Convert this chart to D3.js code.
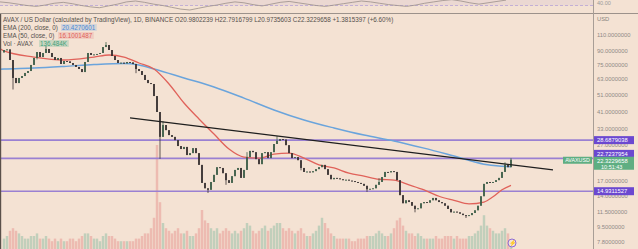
<!DOCTYPE html>
<html><head><meta charset="utf-8">
<script src="https://cdn.jsdelivr.net/npm/d3@7"></script>
<style>
html,body{margin:0;padding:0;background:#f4e2d3;}
svg{display:block;font-family:"Liberation Sans",Arial,sans-serif;}
</style></head><body>
<svg id="c" width="638" height="249"></svg>
<script>
// ---- data ----
const closes = [
 90.8,91.5,79.9,63.5,59.5,63.5,65.1,67.7,69.4,75.0,
 82.0,88.5,83.0,87.4,92.0,87.4,83.0,79.9,82.0,75.9,
 78.9,78.5,76.9,75.0,73.1,71.2,68.5,77.9,87.4,85.2,
 85.8,86.3,87.4,94.3,96.8,90.8,84.1,79.9,76.9,77.2,
 76.5,77.9,77.5,75.9,71.2,69.4,66.0,61.9,59.5,58.8,
 50.4,41.1,29.9,34.8,32.6,30.6,29.9,28.7,26.6,25.6,
 26.3,23.7,24.3,25.9,24.3,20.9,16.6,15.5,15.2,16.8,
 18.4,20.3,20.1,18.8,17.2,16.6,18.1,19.6,20.1,17.7,
 19.6,23.1,25.0,24.6,22.5,21.1,24.3,24.6,22.8,24.6,
 27.3,28.4,29.1,28.9,26.9,24.3,22.8,23.1,22.2,20.1,
 19.1,19.2,19.0,19.3,19.8,20.3,20.9,19.8,18.4,17.4,
 17.7,17.6,17.4,17.2,17.3,17.1,17.0,16.8,16.6,16.4,
 16.0,15.3,15.4,15.5,16.2,16.8,17.9,19.1,19.0,19.3,
 19.1,17.2,14.2,12.8,13.3,13.0,12.4,11.9,12.0,12.8,
 13.0,12.9,13.3,13.7,13.3,13.0,12.8,12.4,11.9,11.4,
 11.5,11.4,11.2,11.0,10.9,11.0,11.3,11.7,12.4,14.0,
 16.4,16.8,16.6,16.8,17.2,17.7,19.1,20.9,20.3,22.32
];
const firstOpen = 88.0;
const wickLows = [[3,54.8],[52,22.6],[68,14.6],[137,11.4],[154,10.6],[11,80.5],[28,80.0],[44,67.5],[74,16.2],[99,19.5],[121,14.8]];
const wickHighs = [[34,100.5],[169,22.79],[91,30.2],[14,95.5],[53,36.5],[81,24.6],[125,17.6],[167,21.6]];
const volumes = [
 4,5,7,8,7,6,5,4,4,5, 5,6,4,4,5,4,3,4,3,4, 3,3,4,4,3,4,5,6,6,5,
 4,4,3,5,6,5,5,4,3,3, 3,3,3,3,4,4,5,6,6,8, 12,40,18,10,8,7,6,7,8,6,
 6,7,5,5,6,8,15,11,10,8, 7,8,6,7,8,7,6,7,6,7, 8,10,9,7,6,7,8,9,7,8,
 9,10,10,8,7,8,7,6,7,8, 6,5,5,6,7,9,12,10,8,6, 5,4,4,4,4,4,3,3,4,4,
 4,5,5,5,6,7,6,5,5,6, 8,11,12,9,7,6,6,5,6,5, 4,4,4,4,5,4,4,5,5,5,
 4,5,4,4,4,5,5,6,7,9, 13,9,8,7,6,6,7,8,6,3
];
const ema200Idx = [-1.5,0,10,20,30,40,45,50,60,70,80,90,100,110,120,130,140,150,160,165,169];
const ema200    = [71.0,71.2,72.1,73.6,75.4,76.4,75.0,71.2,63.5,56.6,49.1,42.2,37.1,33.5,30.6,28.4,25.9,23.4,21.1,20.6,20.43];
const ema50Idx  = [-1.5,0,10,20,30,35,40,45,50,55,60,65,70,75,80,85,90,95,100,105,110,115,120,125,130,135,140,145,150,155,160,163,166,169];
const ema50     = [93.0,89.7,83.0,79.9,83.0,85.2,83.0,76.9,71.2,58.8,46.1,37.6,31.0,25.6,23.1,22.8,24.0,24.3,22.8,20.9,20.1,18.8,18.1,17.4,17.2,16.2,15.2,14.0,13.3,12.7,13.0,13.9,15.2,16.10];
const trendIdx  = [42,183];
const trendVals = [38.1,19.6];
const levels = [28.6879038, 22.7237954, 14.9311527];
const levelLabelShift = [0, -4.5, 0];
const priceTicks = [110,90,75,63,51,41,33,27,17,14,11.5,9.5,7.8];
const rsi = [38,36,33,30,28,31,35,37,34,30,27,25,29,33,38,40,37,33,30,26,22,20,24,28,31,35,38,36,32,29,33,37,39,36,33,30,28,31,34,37,40,38,35,32,30,28,31,35,38,41,43,40,36,33,36,39,42];
const lastPrice = 22.3229658;
const countdown = "10:51:43";

// ---- scales ----
const svg = d3.select("#c");
const W = 638, H = 249, plotR = 593;
const x = d3.scaleLinear().domain([0,169]).range([4,511]);
const y = d3.scaleLog().domain([7.8,110]).range([242,35]);
const yv = d3.scaleLinear().domain([0,40]).range([249,145]);
const xr = d3.scaleLinear().domain([0,rsi.length-1]).range([0,506]);
const yr = d3.scaleLinear().domain([30,40]).range([5.5,1]);

svg.append("rect").attr("width",W).attr("height",H).attr("fill","#f4e2d3");

// top pane (RSI remnants)
const topPane = svg.append("g");
topPane.append("rect").attr("x",0).attr("y",0).attr("width",plotR).attr("height",5.5).attr("fill","rgba(126,87,194,0.07)");
topPane.append("line").attr("x1",0).attr("x2",plotR).attr("y1",yr(30)).attr("y2",yr(30))
  .attr("stroke","#b7a3d6").attr("stroke-dasharray","3,2").attr("stroke-width",0.8);
topPane.append("path").datum(rsi).attr("fill","none").attr("stroke","#9a8f8a").attr("stroke-width",0.8)
  .attr("d",d3.line().x((d,i)=>xr(i)).y(d=>yr(d)));
svg.append("line").attr("x1",0).attr("x2",W).attr("y1",13.5).attr("y2",13.5).attr("stroke","#9c928b").attr("stroke-width",1.2);
svg.append("text").attr("x",597).attr("y",5).attr("font-size",5.5).attr("fill","#999").text("40.00");

const clip = svg.append("defs").append("clipPath").attr("id","pc");
clip.append("rect").attr("x",0).attr("y",14).attr("width",plotR).attr("height",H-14);
const g = svg.append("g").attr("clip-path","url(#pc)");

// volumes
const opens = closes.map((c,i)=> i===0 ? firstOpen : closes[i-1]);
g.append("g").selectAll("rect").data(volumes).join("rect")
  .attr("x",(d,i)=>x(i)-1.2).attr("width",2.4)
  .attr("y",d=>yv(d)).attr("height",d=>yv(0)-yv(d))
  .attr("fill",(d,i)=> closes[i]>=opens[i] ? "rgba(90,170,140,0.33)" : "rgba(225,110,110,0.33)");

// levels
g.append("g").selectAll("line").data(levels).join("line")
  .attr("x1",0).attr("x2",plotR).attr("y1",d=>y(d)).attr("y2",d=>y(d))
  .attr("stroke","#9a80d2").attr("stroke-width",1.6);

// EMAs
const line = d3.line().curve(d3.curveMonotoneX);
g.append("path").datum(ema200Idx.map((k,i)=>[x(k),y(ema200[i])])).attr("d",line)
  .attr("fill","none").attr("stroke","#6aa4dc").attr("stroke-width",1.5);
g.append("path").datum(ema50Idx.map((k,i)=>[x(k),y(ema50[i])])).attr("d",line)
  .attr("fill","none").attr("stroke","#e0625a").attr("stroke-width",1.3);

// candles
const cg = g.append("g");
const lowMap = new Map(wickLows), highMap = new Map(wickHighs);
closes.forEach((c,i)=>{
  const o = opens[i];
  const hi = highMap.has(i) ? highMap.get(i) : Math.max(o,c);
  const lo = lowMap.has(i) ? lowMap.get(i) : Math.min(o,c);
  const col = c>=o ? "#3f5f4a" : "#3a3434";
  cg.append("line").attr("x1",x(i)).attr("x2",x(i)).attr("y1",y(hi)).attr("y2",y(lo)).attr("stroke",col).attr("stroke-width",0.8);
  const yt = y(Math.max(o,c)), yb = y(Math.min(o,c));
  cg.append("rect").attr("x",x(i)-0.9).attr("width",1.8).attr("y",yt).attr("height",Math.max(1,yb-yt)).attr("fill",col);
});

// trendline
g.append("line").attr("x1",x(trendIdx[0])).attr("y1",y(trendVals[0]))
  .attr("x2",x(trendIdx[1])).attr("y2",y(trendVals[1])).attr("stroke","#1e1e1e").attr("stroke-width",1.2);

// event icon
const ev = svg.append("g").attr("transform",`translate(${x(169)+1},243)`);
ev.append("circle").attr("r",4).attr("fill","#f4e2d3").attr("stroke","#8c6bd6").attr("stroke-width",1);
ev.append("text").attr("text-anchor","middle").attr("y",2.2).attr("font-size",6).attr("fill","#8c6bd6").text("⚡");

// left border
svg.append("line").attr("x1",0.6).attr("x2",0.6).attr("y1",14).attr("y2",H).attr("stroke","#5a504a").attr("stroke-width",1.2);

// right axis
svg.append("line").attr("x1",plotR+0.5).attr("x2",plotR+0.5).attr("y1",0).attr("y2",H).attr("stroke","#a89e96").attr("stroke-width",1);
svg.append("text").attr("x",597).attr("y",21).attr("font-size",5.8).attr("fill","#8a8480").text("USD");
svg.append("g").selectAll("text").data(priceTicks).join("text")
  .attr("x",597).attr("y",d=>y(d)+2).attr("font-size",5.8).attr("fill","#8f8a86")
  .text(d=>d.toFixed(7));

// level labels
const lab = svg.append("g");
levels.forEach((v,i)=>{
  const cy = y(v)+levelLabelShift[i];
  lab.append("rect").attr("x",594).attr("y",cy-4).attr("width",40).attr("height",8).attr("fill","#6b48d0");
  lab.append("text").attr("x",597).attr("y",cy+2).attr("font-size",5.8).attr("fill","#fff").text(v.toFixed(7));
});
// last price label
const ly = y(lastPrice);
lab.append("rect").attr("x",594).attr("y",ly-3).attr("width",40).attr("height",13).attr("fill","#5fae82");
lab.append("text").attr("x",597).attr("y",ly+3).attr("font-size",5.8).attr("fill","#fff").text(lastPrice.toFixed(7));
lab.append("text").attr("x",601).attr("y",ly+9).attr("font-size",5.5).attr("fill","#fff").text(countdown);
lab.append("rect").attr("x",563).attr("y",ly-3).attr("width",29).attr("height",7).attr("fill","#5fae82");
lab.append("text").attr("x",577.5).attr("y",ly+2.3).attr("text-anchor","middle").attr("font-size",5.3).attr("fill","#fff").text("AVAXUSD");

// header legend
const hd = svg.append("g").attr("font-size",6.3).attr("fill","#55504c");
hd.append("text").attr("x",3).attr("y",22)
  .text("AVAX / US Dollar (calculated by TradingView), 1D, BINANCE  O20.9802239  H22.7916799  L20.9735603  C22.3229658  +1.3815397 (+6.60%)");
function legend(yb, label, val, col, bg, vx){
  hd.append("text").attr("x",3).attr("y",yb).text(label);
  const t = hd.append("text").attr("x",vx).attr("y",yb).attr("fill",col).text(val);
  const bb = t.node().getBBox();
  hd.insert("rect","text").attr("x",bb.x-1).attr("y",bb.y).attr("width",bb.width+2).attr("height",bb.height).attr("fill",bg);
}
legend(30,"EMA (200, close, 0)","20.4270601","#4a8ad6","rgba(120,170,230,0.25)",62);
legend(38,"EMA (50, close, 0)","16.1001487","#e0605a","rgba(230,120,120,0.2)",59);
legend(46,"Vol · AVAX","136.484K","#3da07a","rgba(80,180,140,0.25)",40);
</script></body></html>
